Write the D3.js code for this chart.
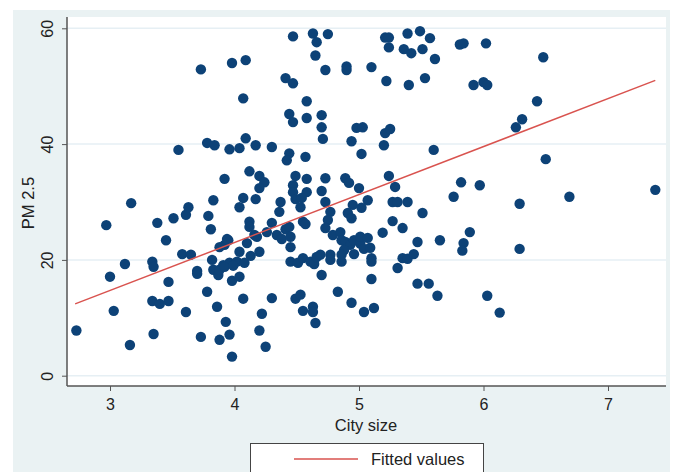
<!DOCTYPE html>
<html>
<head>
<meta charset="utf-8">
<script src="https://cdn.jsdelivr.net/npm/d3@7"></script>
<style>
    body { margin: 0; background: #fff; }
    svg { display: block; font-family: "Liberation Sans", Arial, sans-serif; }
</style>
</head>
<body>
<div id="chart"></div>
<script>
// city size (log) per city
var citySize = [
    2.73, 2.97, 3.00, 3.03, 3.12, 3.16, 3.17, 3.34, 3.35, 3.34, 3.40, 3.47, 3.35, 3.38, 3.45, 3.47,
    3.51, 3.55, 3.58, 3.65, 3.61, 3.61, 3.63, 3.70, 3.70, 3.73, 3.73, 3.78, 3.84, 3.78, 3.79, 3.81,
    3.83, 3.82, 3.83, 3.87, 3.86, 3.88, 3.96, 3.93, 3.98, 3.98, 3.92, 3.96, 4.04, 3.98, 4.09, 4.07,
    4.09, 4.17, 4.12, 4.20, 4.24, 4.20, 4.07, 4.04, 4.17, 4.30, 4.37, 4.36, 4.12, 4.12, 4.30, 3.92,
    3.95, 3.91, 3.96, 4.02, 4.08, 4.04, 4.04, 4.10, 4.07, 4.13, 4.18, 4.20, 4.20, 4.22, 4.25, 4.30,
    4.26, 4.34, 3.88, 3.88, 3.92, 3.94, 4.16, 4.38, 4.41, 4.44, 4.41, 4.47, 4.47, 4.44, 4.47, 4.58,
    4.58, 4.63, 4.66, 4.65, 4.75, 4.73, 4.70, 4.70, 4.71, 4.44, 4.42, 4.57, 4.49, 4.47, 4.47, 4.49,
    4.58, 4.58, 4.54, 4.53, 4.70, 4.73, 4.73, 4.77, 4.75, 4.73, 4.55, 4.45, 4.45, 4.45, 4.51, 4.55,
    4.61, 4.49, 4.53, 4.55, 4.63, 4.63, 4.65, 4.70, 4.69, 4.77, 4.77, 4.79, 4.83, 4.57, 4.64, 4.86,
    4.85, 4.86, 4.89, 4.93, 4.96, 5.01, 4.88, 4.96, 5.04, 4.94, 5.04, 5.12, 4.90, 4.90, 5.10, 5.21,
    5.24, 5.24, 5.39, 5.49, 5.57, 5.36, 5.42, 5.51, 5.61, 5.81, 5.84, 6.02, 6.48, 5.22, 5.40, 5.53,
    5.92, 6.00, 6.03, 6.43, 6.26, 6.31, 4.98, 5.03, 4.94, 5.21, 5.25, 5.20, 5.02, 5.60, 6.50, 4.89,
    4.92, 5.00, 5.24, 5.29, 5.82, 5.97, 7.38, 5.76, 6.69, 6.29, 5.27, 5.31, 5.39, 5.51, 5.07, 4.95,
    5.02, 4.91, 4.94, 5.27, 5.35, 5.19, 5.89, 5.01, 5.07, 5.47, 5.65, 5.84, 5.83, 6.29, 4.86, 5.09,
    5.10, 5.10, 5.35, 5.39, 5.44, 5.31, 5.10, 5.47, 5.56, 5.63, 6.03, 6.13, 3.99, 4.66
];

// PM 2.5 per city, same order
var pm25 = [
    7.8, 26.0, 17.1, 11.2, 19.3, 5.3, 29.8, 19.7, 18.8, 12.9, 12.4, 12.9, 7.2, 26.4, 23.4, 16.2,
    27.2, 39.0, 21.0, 20.9, 11.0, 27.8, 29.1, 18.1, 17.6, 52.9, 6.7, 40.2, 39.8, 14.5, 27.6, 25.3,
    30.3, 20.0, 18.3, 17.4, 11.9, 6.2, 7.1, 9.3, 3.3, 16.4, 34.0, 39.1, 39.3, 54.0, 54.5, 47.9,
    41.0, 39.8, 35.3, 34.5, 33.4, 32.4, 30.7, 29.1, 30.5, 39.5, 30.0, 28.3, 26.6, 25.7, 26.4, 22.6,
    23.4, 19.1, 19.5, 19.7, 19.5, 17.1, 21.4, 22.9, 13.3, 20.7, 24.0, 21.4, 7.8, 10.7, 5.0, 13.4,
    24.8, 24.3, 18.3, 22.2, 18.8, 23.6, 24.3, 23.6, 25.3, 25.7, 51.4, 50.5, 58.6, 45.2, 43.8, 47.4,
    44.5, 59.1, 57.6, 55.3, 59.0, 52.8, 45.0, 42.9, 40.9, 38.4, 37.2, 37.8, 34.5, 32.9, 31.7, 30.5,
    34.0, 31.7, 30.7, 29.1, 31.9, 30.0, 34.1, 28.3, 26.9, 25.5, 26.6, 24.0, 22.2, 19.7, 19.5, 20.3,
    19.7, 13.3, 14.0, 11.2, 11.9, 11.0, 9.1, 17.4, 20.9, 20.9, 20.0, 24.3, 14.5, 26.2, 19.3, 19.7,
    24.8, 23.4, 23.1, 22.6, 23.4, 22.8, 21.7, 21.0, 21.9, 12.6, 11.0, 11.7, 53.4, 52.8, 53.3, 58.4,
    58.4, 56.7, 59.1, 59.5, 58.3, 56.4, 55.7, 56.4, 54.7, 57.2, 57.4, 57.4, 55.0, 50.9, 50.2, 51.4,
    50.2, 50.7, 50.2, 47.4, 42.9, 44.3, 42.8, 42.9, 40.5, 41.9, 42.6, 39.8, 38.3, 39.0, 37.4, 34.1,
    33.3, 32.4, 34.5, 32.6, 33.4, 32.9, 32.1, 30.9, 30.9, 29.7, 30.0, 30.0, 30.0, 28.1, 30.3, 29.5,
    29.0, 28.1, 27.2, 26.7, 25.5, 24.7, 24.8, 24.0, 23.8, 23.1, 23.4, 22.9, 21.6, 21.9, 20.9, 22.1,
    20.3, 19.7, 20.3, 20.2, 21.0, 18.6, 16.7, 15.9, 15.9, 13.8, 13.8, 10.9, 19.0, 20.5
];

// fitted values line, read at both ends
var fitX = [2.72, 7.38];
var fitY = [12.4, 51.0];

var xTicks = [3, 4, 5, 6, 7];
var yTicks = [0, 20, 40, 60];

var margin = {top: 17, right: 8, bottom: 86, left: 67},
    width = 674 - margin.left - margin.right,
    height = 472 - margin.top - margin.bottom;

var svg = d3.select("#chart").append("svg")
    .attr("width", 674)
    .attr("height", 472);

// outer graph region
svg.append("rect")
    .attr("x", 13).attr("y", 10)
    .attr("width", 657).attr("height", 462)
    .attr("fill", "#eaf2f3");

var g = svg.append("g")
    .attr("transform", "translate(" + margin.left + "," + margin.top + ")");

g.append("rect")
    .attr("width", width).attr("height", height)
    .attr("fill", "#fff");

var x = d3.scaleLinear().domain([3, 7]).range([43, 541]);
var y = d3.scaleLinear().domain([0, 60]).range([358.7, 11.3]);

// grid lines
g.selectAll(".grid")
    .data(yTicks)
    .enter().append("line")
    .attr("class", "grid")
    .attr("x1", 0).attr("x2", width)
    .attr("y1", function(d) { return y(d); })
    .attr("y2", function(d) { return y(d); })
    .attr("stroke", "#e6eff4")
    .attr("stroke-width", 1.5);

// points
g.selectAll(".dot")
    .data(citySize)
    .enter().append("circle")
    .attr("class", "dot")
    .attr("cx", function(d) { return x(d); })
    .attr("cy", function(d, i) { return y(pm25[i]); })
    .attr("r", 5.2)
    .attr("fill", "#0d4277");

// fitted line
var line = d3.line()
    .x(function(d) { return x(d); })
    .y(function(d, i) { return y(fitY[i]); });

g.append("path")
    .attr("d", line(fitX))
    .attr("fill", "none")
    .attr("stroke", "#d9534f")
    .attr("stroke-width", 1.5);

// axes
var xAxis = d3.axisBottom(x).tickValues(xTicks).tickFormat(d3.format("d")).tickSize(5).tickSizeOuter(0);
var yAxis = d3.axisLeft(y).tickValues(yTicks).tickFormat(d3.format("d")).tickSize(5).tickSizeOuter(0);

var gx = g.append("g")
    .attr("transform", "translate(0," + height + ")")
    .call(xAxis);
gx.select(".domain").remove();
gx.selectAll("line").attr("stroke", "#555");
gx.selectAll("text")
    .attr("y", 13)
    .attr("dy", "0.71em")
    .style("font-size", "16px")
    .style("font-family", "Liberation Sans, Arial, sans-serif")
    .attr("fill", "#222");

var gy = g.append("g").call(yAxis);
gy.select(".domain").remove();
gy.selectAll("line").attr("stroke", "#555");
gy.selectAll("text")
    .attr("x", null).attr("dy", null)
    .attr("transform", "translate(-14,0) rotate(-90)")
    .style("text-anchor", "middle")
    .style("font-size", "16px")
    .style("font-family", "Liberation Sans, Arial, sans-serif")
    .attr("fill", "#222");

g.append("line")
    .attr("x1", 0).attr("x2", 0)
    .attr("y1", 0).attr("y2", height)
    .attr("stroke", "#555").attr("stroke-width", 1.5);
g.append("line")
    .attr("x1", 0).attr("x2", width)
    .attr("y1", height).attr("y2", height)
    .attr("stroke", "#555").attr("stroke-width", 1.5);

// axis titles
svg.append("text")
    .attr("x", 366).attr("y", 431)
    .style("text-anchor", "middle")
    .style("font-size", "16.5px")
    .attr("fill", "#222")
    .text("City size");

svg.append("text")
    .attr("transform", "translate(34,203) rotate(-90)")
    .style("text-anchor", "middle")
    .style("font-size", "16.5px")
    .attr("fill", "#222")
    .text("PM 2.5");

// legend
svg.append("rect")
    .attr("x", 250.5).attr("y", 443.5)
    .attr("width", 233).attr("height", 40)
    .attr("fill", "#fff")
    .attr("stroke", "#444");
svg.append("line")
    .attr("x1", 294).attr("x2", 358)
    .attr("y1", 459).attr("y2", 459)
    .attr("stroke", "#d9534f").attr("stroke-width", 1.5);
svg.append("text")
    .attr("x", 371).attr("y", 465)
    .style("font-size", "16.5px")
    .attr("fill", "#222")
    .text("Fitted values");
</script>
</body>
</html>
